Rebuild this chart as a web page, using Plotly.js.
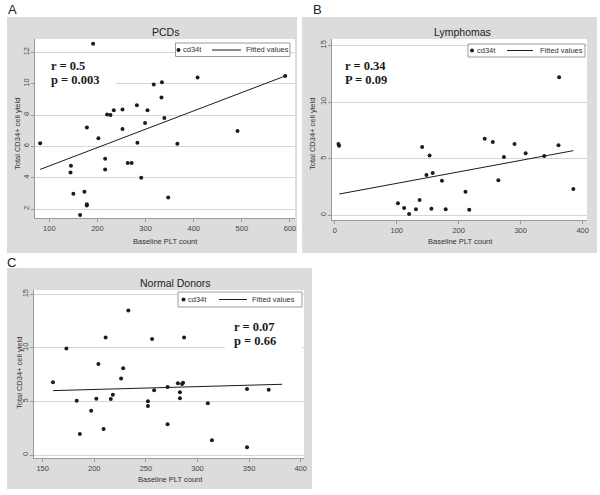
<!DOCTYPE html>
<html><head><meta charset="utf-8">
<script src="https://cdn.plot.ly/plotly-3.0.1.min.js"></script>
<style>html,body{margin:0;padding:0;background:#fff}#chart{width:600px;height:495px}</style>
</head><body><div id="chart"></div>
<script>
// Panel A: PCDs
const pcdX = [81,191,145,144,150,173,178,178,164,178,202,216,216,220,227,234,252,252,263,271,282,283,291,299,304,317,333,334,339,347,366,408,491,590];
const pcdY = [6.2,12.55,4.77,4.34,2.98,3.11,2.30,2.23,1.62,7.21,6.51,5.21,4.53,8.04,8.0,8.30,8.36,7.11,4.94,4.94,8.62,6.23,4.0,7.49,8.30,9.94,9.11,10.09,7.81,2.74,6.17,10.4,6.98,10.49];
const pcdFitX = [81,590];
const pcdFitY = [4.53,10.49];
// Panel B: Lymphomas
const lymX = [6,7,102,112,120,131,137,141,148,153,156,158,173,179,211,217,242,255,264,273,290,308,338,362,361,385];
const lymY = [6.29,6.15,1.06,0.65,0.12,0.53,1.35,6.03,3.56,5.29,0.59,3.74,3.06,0.53,2.09,0.5,6.76,6.47,3.09,5.15,6.29,5.47,5.24,12.18,6.18,2.32];
const lymFitX = [7,385];
const lymFitY = [1.88,5.71];
// Panel C: Normal Donors
const ndX = [160,173,183,186,197,202,204,209,211,216,218,226,228,233,252,252,256,258,271,271,281,283,283,285,286,287,310,314,348,348,369];
const ndY = [6.78,9.93,5.07,1.96,4.14,5.26,8.5,2.43,10.96,5.23,5.63,7.13,8.09,13.48,5.01,4.58,10.83,6.04,6.35,2.86,6.69,5.85,5.29,6.63,6.75,10.96,4.82,1.37,6.16,0.72,6.10];
const ndFitX = [160,382];
const ndFitY = [6.01,6.6];

const panelTitles = ["PCDs","Lymphomas","Normal Donors"];
const panelLetters = ["A","B","C"];
const statLines = [["r = 0.5","p = 0.003"],["r = 0.34","P = 0.09"],["r = 0.07","p = 0.66"]];
const xTitle = "Baseline PLT count";
const yTitle = "Total CD34+ cell yield";
const seriesName = "cd34t";
const fitName = "Fitted values";

const W = 600, H = 495;
const px = v => v / W;
const py = v => 1 - v / H;

const SANS = "Liberation Sans, Arial, sans-serif";
const SERIF = "Liberation Serif, Times New Roman, serif";
const INK = "#1c1c1c";
const dot = {size: 4, color: INK};
const fitLine = {color: INK, width: 1};

const traces = [
  {x: pcdX, y: pcdY, type: "scatter", mode: "markers", marker: dot, name: seriesName, xaxis: "x", yaxis: "y"},
  {x: pcdFitX, y: pcdFitY, type: "scatter", mode: "lines", line: fitLine, name: fitName, xaxis: "x", yaxis: "y"},
  {x: lymX, y: lymY, type: "scatter", mode: "markers", marker: dot, name: seriesName, xaxis: "x2", yaxis: "y2"},
  {x: lymFitX, y: lymFitY, type: "scatter", mode: "lines", line: fitLine, name: fitName, xaxis: "x2", yaxis: "y2"},
  {x: ndX, y: ndY, type: "scatter", mode: "markers", marker: dot, name: seriesName, xaxis: "x3", yaxis: "y3"},
  {x: ndFitX, y: ndFitY, type: "scatter", mode: "lines", line: fitLine, name: fitName, xaxis: "x3", yaxis: "y3"}
];

function xax(anchor, domain, range, dtick, t0) {
  return {anchor: anchor, domain: domain, range: range, tick0: t0, dtick: dtick, showgrid: false, zeroline: false,
    showline: true, linecolor: "#9a9a9a", linewidth: 1, ticks: "outside", ticklen: 3, tickcolor: "#9a9a9a",
    tickfont: {family: SANS, size: 7.5, color: "#444"}, fixedrange: true};
}
function yax(anchor, domain, range, dtick, t0) {
  return {anchor: anchor, domain: domain, range: range, tick0: t0, dtick: dtick, showgrid: true, gridcolor: "#d6d6d6", gridwidth: 1,
    zeroline: false, showline: true, linecolor: "#9a9a9a", linewidth: 1, ticks: "outside", ticklen: 3, tickcolor: "#9a9a9a",
    ticklabelstandoff: -1,
    tickangle: -90, tickfont: {family: SANS, size: 7.5, color: "#444"}, fixedrange: true};
}

const grey = "#dcdcdc";
const shapes = [
  {type: "rect", xref: "paper", yref: "paper", x0: px(7), x1: px(297), y0: py(253), y1: py(17), fillcolor: grey, line: {width: 0}, layer: "below"},
  {type: "rect", xref: "paper", yref: "paper", x0: px(302), x1: px(597), y0: py(253), y1: py(17), fillcolor: grey, line: {width: 0}, layer: "below"},
  {type: "rect", xref: "paper", yref: "paper", x0: px(7), x1: px(312), y0: py(489), y1: py(268), fillcolor: grey, line: {width: 0}, layer: "below"},
  {type: "rect", xref: "x domain", yref: "y domain", x0: 0, x1: 1, y0: 0, y1: 1, fillcolor: "#fff", line: {width: 0}, layer: "below"},
  {type: "rect", xref: "x2 domain", yref: "y2 domain", x0: 0, x1: 1, y0: 0, y1: 1, fillcolor: "#fff", line: {width: 0}, layer: "below"},
  {type: "rect", xref: "x3 domain", yref: "y3 domain", x0: 0, x1: 1, y0: 0, y1: 1, fillcolor: "#fff", line: {width: 0}, layer: "below"},
  // white boxes behind the statistics text
  {type: "rect", xref: "x domain", yref: "y domain", x0: 0.004, x1: 0.31, y0: 0.72, y1: 0.91, fillcolor: "#fff", line: {width: 0}, layer: "above"},
  {type: "rect", xref: "x3 domain", yref: "y3 domain", x0: 0.707, x1: 0.993, y0: 0.63, y1: 0.82, fillcolor: "#fff", line: {width: 0}, layer: "above"}
];

const ann = [];
function txt(x, y, text, font, opts) {
  ann.push(Object.assign({xref: "paper", yref: "paper", x: px(x), y: py(y), text: text, showarrow: false,
    xanchor: "center", yanchor: "middle", font: font}, opts || {}));
}
const titleFont = {family: SANS, size: 10.5, color: "#222"};
const letterFont = {family: SANS, size: 13, color: "#222"};
const axFont = {family: SANS, size: 7.5, color: "#333"};
const legFont = {family: SANS, size: 7.5, color: "#333"};
const statFont = {family: SERIF, size: 12.5, color: "#1a1a1a", weight: "bold"};

// Stata-style legend boxes
function legendBox(l, r, t, b, mx, t1, lx0, lx1, t2, cy) {
  shapes.push({type: "rect", xref: "paper", yref: "paper", x0: px(l), x1: px(r), y0: py(b), y1: py(t),
    fillcolor: "#fff", line: {color: "#9a9a9a", width: 1}, layer: "above"});
  shapes.push({type: "circle", xref: "paper", yref: "paper", x0: px(mx - 2), x1: px(mx + 2), y0: py(cy + 2), y1: py(cy - 2),
    fillcolor: INK, line: {width: 0}, layer: "above"});
  shapes.push({type: "line", xref: "paper", yref: "paper", x0: px(lx0), x1: px(lx1), y0: py(cy), y1: py(cy),
    line: {color: INK, width: 1}, layer: "above"});
  txt(t1, cy, seriesName, legFont, {xanchor: "left"});
  txt(t2, cy, fitName, legFont, {xanchor: "left"});
}
legendBox(175.5, 290, 43, 56.5, 178.5, 181, 212, 241, 244, 50);
legendBox(468, 585, 44, 57, 472, 474.5, 507, 533, 538, 50.5);
legendBox(178, 302, 292, 307, 183.5, 186, 219, 247, 250, 299.5);

txt(165, 32, panelTitles[0], titleFont);
txt(463, 32, panelTitles[1], titleFont);
txt(175, 283, panelTitles[2], titleFont);
txt(12, 9, panelLetters[0], letterFont);
txt(317, 9, panelLetters[1], letterFont);
txt(11, 262, panelLetters[2], letterFont);
txt(165, 241, xTitle, axFont);
txt(460, 241, xTitle, axFont);
txt(170, 479, xTitle, axFont);
txt(18, 134, yTitle, axFont, {textangle: -90});
txt(313, 134, yTitle, axFont, {textangle: -90});
txt(19, 373, yTitle, axFont, {textangle: -90});
txt(49, 66, "<b>" + statLines[0][0] + "</b>", statFont, {xanchor: "left"});
txt(49, 80, "<b>" + statLines[0][1] + "</b>", statFont, {xanchor: "left"});
txt(343, 66, "<b>" + statLines[1][0] + "</b>", statFont, {xanchor: "left"});
txt(343, 80, "<b>" + statLines[1][1] + "</b>", statFont, {xanchor: "left"});
txt(232, 327, "<b>" + statLines[2][0] + "</b>", statFont, {xanchor: "left"});
txt(232, 341, "<b>" + statLines[2][1] + "</b>", statFont, {xanchor: "left"});

const layout = {
  width: W, height: H, margin: {l: 0, r: 0, t: 0, b: 0},
  paper_bgcolor: "#ffffff", plot_bgcolor: "rgba(0,0,0,0)",
  showlegend: false,
  xaxis: xax("y", [px(35), px(295)], [70.3, 610.4], 100, 0),
  yaxis: yax("x", [py(218), py(39)], [1.43, 12.85], 2, 0),
  xaxis2: xax("y2", [px(332), px(587)], [-4.4, 407], 100, 0),
  yaxis2: yax("x2", [py(220), py(39)], [-0.41, 15.56], 5, 0),
  xaxis3: xax("y3", [px(34), px(304)], [141.6, 403.2], 50, 0),
  yaxis3: yax("x3", [py(458), py(290)], [-0.28, 15.4], 5, 0),
  shapes: shapes,
  annotations: ann
};

Plotly.newPlot("chart", traces, layout, {displayModeBar: false, staticPlot: true});
</script>
</body></html>
